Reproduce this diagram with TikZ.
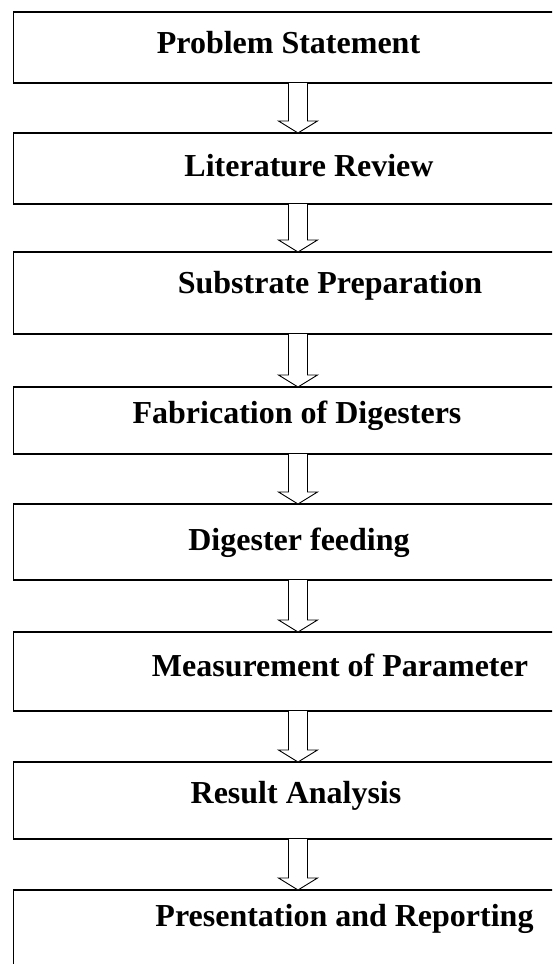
\documentclass[tikz,border=0pt]{standalone}
\usepackage{fontspec}
\setmainfont{Liberation Serif}
\usetikzlibrary{calc}
\tikzset{
  stepbox/.style={draw=black, line width=1.3pt, rectangle, outer sep=0pt, inner sep=0pt, minimum width=556pt},
  lbl/.style={anchor=base, inner sep=0pt, font=\fontsize{32}{37}\selectfont\bfseries},
  blk/.style={draw=black, line width=0.9pt, line join=miter, fill=white}
}
\newcommand{\blockarr}[2]{%
  \draw[blk] ($(#1.south -| ax)+(-9.5,0)$) -- ($(#2.north -| ax)+(-9.5,-12)$)
    -- ($(#2.north -| ax)+(-19.5,-12)$) -- (#2.north -| ax)
    -- ($(#2.north -| ax)+(19.5,-12)$) -- ($(#2.north -| ax)+(9.5,-12)$)
    -- ($(#1.south -| ax)+(9.5,0)$);}
\begin{document}
\begin{tikzpicture}[x=1pt,y=-1pt]
\useasboundingbox (0,0) rectangle (552,964);
\clip (0,0) rectangle (552,964);
\fill[white] (0,0) rectangle (552,964);
\coordinate (ax) at (298,0);
\node[stepbox, minimum height=71pt] (b1) at (291.5,47.5) {};
\node[stepbox, minimum height=71pt] (b2) at (291.5,168.5) {};
\node[stepbox, minimum height=82pt] (b3) at (291.5,293) {};
\node[stepbox, minimum height=67pt] (b4) at (291.5,420.5) {};
\node[stepbox, minimum height=76pt] (b5) at (291.5,542) {};
\node[stepbox, minimum height=79pt] (b6) at (291.5,671.5) {};
\node[stepbox, minimum height=77pt] (b7) at (291.5,800.5) {};
\node[stepbox, minimum height=100pt] (b8) at (291.5,940) {};
\node[lbl] (t1) at (288.5,53) {Problem Statement};
\node[lbl] (t2) at (309,176.5) {Literature Review};
\node[lbl] (t3) at (330,293.5) {Substrate Preparation};
\node[lbl] (t4) at (297,423.5) {Fabrication of Digesters};
\node[lbl] (t5) at (299,550.5) {Digester feeding};
\node[lbl] (t6) at (340,676.5) {Measurement of Parameter};
\node[lbl] (t7) at (296,803.5) {Result Analysis};
\node[lbl] (t8) at (344.5,926) {Presentation and Reporting};
\blockarr{b1}{b2}
\blockarr{b2}{b3}
\blockarr{b3}{b4}
\blockarr{b4}{b5}
\blockarr{b5}{b6}
\blockarr{b6}{b7}
\blockarr{b7}{b8}
\end{tikzpicture}
\end{document}
